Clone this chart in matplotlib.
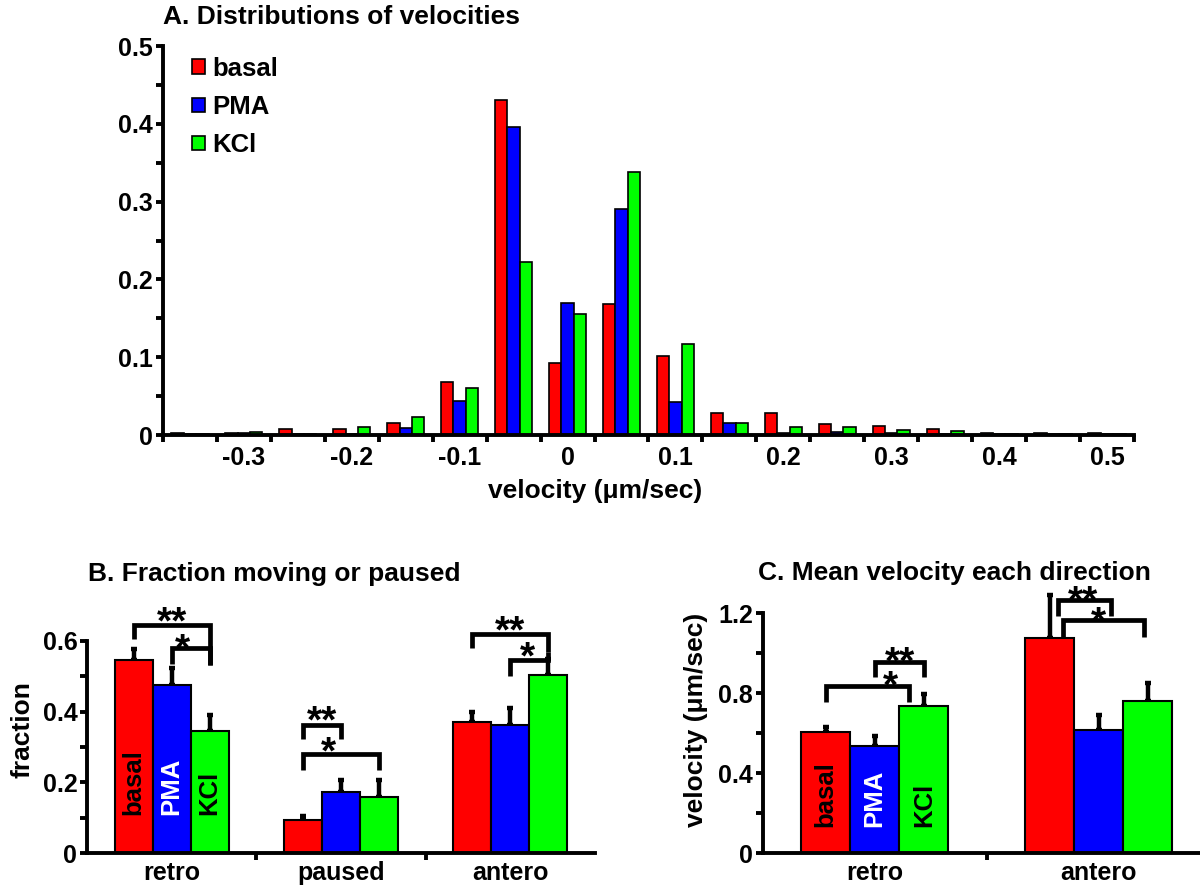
import matplotlib.pyplot as plt
import numpy as np

plt.rcParams['font.family'] = ['Liberation Sans', 'DejaVu Sans']
plt.rcParams['font.weight'] = 'bold'
plt.rcParams['axes.labelweight'] = 'bold'
plt.rcParams['axes.unicode_minus'] = False

conditions = ['basal', 'PMA', 'KCl']
colors = ['#ff0000', '#0000ff', '#00ff00']
label_colors = ['black', 'white', 'black']

# A. distributions of velocities (fraction per 0.05 bin)
bin_centers = [-0.35, -0.3, -0.25, -0.2, -0.15, -0.1, -0.05, 0, 0.05,
               0.1, 0.15, 0.2, 0.25, 0.3, 0.35, 0.4, 0.45, 0.5]
hist_basal = [0.003, 0.002, 0.008, 0.008, 0.016, 0.068, 0.431, 0.093, 0.168,
              0.101, 0.028, 0.028, 0.014, 0.011, 0.008, 0.002, 0.002, 0.002]
hist_pma = [0.001, 0.002, 0.001, 0.001, 0.009, 0.044, 0.396, 0.170, 0.290,
            0.042, 0.016, 0.002, 0.004, 0.002, 0.001, 0.001, 0.001, 0.001]
hist_kcl = [0.001, 0.004, 0.001, 0.010, 0.023, 0.061, 0.223, 0.156, 0.338,
            0.117, 0.016, 0.010, 0.010, 0.007, 0.005, 0.001, 0.001, 0.001]
vel_ticks = [-0.3, -0.2, -0.1, 0, 0.1, 0.2, 0.3, 0.4, 0.5]
vel_ticklabels = ['-0.3', '-0.2', '-0.1', '0', '0.1', '0.2', '0.3', '0.4', '0.5']

# B. fraction moving or paused
frac_groups = ['retro', 'paused', 'antero']
frac_basal = [0.545, 0.093, 0.372]
frac_basal_err = [0.033, 0.012, 0.028]
frac_pma = [0.476, 0.173, 0.362]
frac_pma_err = [0.048, 0.033, 0.048]
frac_kcl = [0.345, 0.158, 0.505]
frac_kcl_err = [0.045, 0.048, 0.045]
# brackets: x1, x2, top, left leg end, right leg end, stars, star x, star y
frac_brackets = [
    (-0.224, 0.224, 0.646, 0.607, 0.531, '**', 0.0, 0.685),
    (0.0, 0.224, 0.579, 0.536, 0.531, '*', 0.063, 0.608),
    (0.776, 1.0, 0.363, 0.322, 0.322, '**', 0.888, 0.405),
    (0.776, 1.224, 0.279, 0.236, 0.236, '*', 0.926, 0.318),
    (1.776, 2.224, 0.62, 0.58, 0.57, '**', 2.0, 0.66),
    (2.0, 2.224, 0.545, 0.50, 0.57, '*', 2.1, 0.585),
]

# C. mean velocity each direction
dir_groups = ['retro', 'antero']
vel_basal = [0.605, 1.075]
vel_basal_err = [0.025, 0.215]
vel_pma = [0.535, 0.615]
vel_pma_err = [0.05, 0.075]
vel_kcl = [0.735, 0.758]
vel_kcl_err = [0.06, 0.09]
vel_brackets = [
    (0.0, 0.219, 0.955, 0.88, 0.88, '**', 0.115, 1.01),
    (-0.219, 0.155, 0.835, 0.755, 0.755, '*', 0.07, 0.89),
    (0.82, 1.055, 1.265, 1.185, 1.185, '**', 0.93, 1.315),
    (0.84, 1.2, 1.165, 1.08, 1.08, '*', 1.0, 1.21),
]

LW = 2.8
STAR_FS = 28

fig = plt.figure(figsize=(12, 8.92), dpi=100)


def style_axes(ax):
    for s in ['top', 'right']:
        ax.spines[s].set_visible(False)
    for s in ['left', 'bottom']:
        ax.spines[s].set_linewidth(LW)
    ax.tick_params(which='both', direction='out', width=LW, length=5,
                   labelsize=18, pad=2)


def bracket(ax, x1, x2, top, y1, y2, stars, sx, sy):
    ax.plot([x1, x1, x2, x2], [y1, top, top, y2], color='k', lw=3.4,
            clip_on=False, solid_joinstyle='miter', solid_capstyle='butt')
    ax.annotate(stars, (sx, sy), xytext=(0, -0.58 * STAR_FS),
                textcoords='offset points', ha='center', va='baseline',
                fontsize=STAR_FS, annotation_clip=False)


def grouped_bars(ax, groups, means, errs, width, label_y):
    x = np.arange(len(groups))
    for i, (m, e) in enumerate(zip(means, errs)):
        xi = x + (i - 1) * width
        ax.bar(xi, m, width, color=colors[i], edgecolor='k', linewidth=1.5,
               zorder=2)
        eb = ax.errorbar(xi, m, yerr=[np.zeros(len(m)), e], fmt='none',
                         ecolor='k', elinewidth=3.2, capsize=2.5,
                         capthick=3.2, zorder=1)
        for art in list(eb.lines[1]) + list(eb.lines[2]):
            art.set_clip_on(False)
        ax.text(xi[0], label_y, conditions[i], rotation=90, ha='center',
                va='bottom', fontsize=18.5, color=label_colors[i], zorder=3)
    ax.set_xticks(x)
    ax.set_xticklabels(groups)
    ax.set_xticks(x[:-1] + 0.5, minor=True)
    ax.tick_params(axis='x', which='major', length=0, pad=6)


# ---- panel A
axA = fig.add_axes([0.1358, 0.5123, 0.8092, 0.4361])
style_axes(axA)
bw = 0.0115
for i, h in enumerate([hist_basal, hist_pma, hist_kcl]):
    axA.bar(np.array(bin_centers) + (i - 1) * bw, h, bw, color=colors[i],
            edgecolor='k', linewidth=1.2, label=conditions[i])
axA.set_xlim(-0.375, 0.525)
axA.set_ylim(0, 0.5)
axA.set_xticks(vel_ticks)
axA.set_xticklabels(vel_ticklabels)
axA.set_xticks(np.arange(-0.375, 0.53, 0.05), minor=True)
axA.tick_params(axis='x', which='major', length=0, pad=8)
axA.set_yticks([0, 0.1, 0.2, 0.3, 0.4, 0.5])
axA.set_yticklabels(['0', '0.1', '0.2', '0.3', '0.4', '0.5'])
axA.set_yticks(np.arange(0.05, 0.5, 0.1), minor=True)
axA.set_xlabel('velocity (\u03bcm/sec)', fontsize=19)
axA.xaxis.set_label_coords(0.445, -0.112)
axA.legend(loc='upper left', bbox_to_anchor=(0.030, 0.972), frameon=False,
           fontsize=18.5, handlelength=0.5, handleheight=0.5,
           handletextpad=0.3, labelspacing=0.55, borderaxespad=0,
           borderpad=0)

fig.text(163 / 1200, 1 - 17 / 892, 'A. Distributions of velocities',
         fontsize=19, ha='left', va='center')

# ---- panel B
axB = fig.add_axes([0.0725, 0.0437, 0.4233, 0.2377])
style_axes(axB)
grouped_bars(axB, frac_groups, [frac_basal, frac_pma, frac_kcl],
             [frac_basal_err, frac_pma_err, frac_kcl_err], 0.224, 0.108)
axB.set_xlim(-0.5, 2.5)
axB.set_ylim(0, 0.6)
axB.set_yticks([0, 0.2, 0.4, 0.6])
axB.set_yticklabels(['0', '0.2', '0.4', '0.6'])
axB.set_yticks([0.1, 0.3, 0.5], minor=True)
axB.set_ylabel('fraction', fontsize=19)
axB.yaxis.set_label_coords(-0.104, 0.58)
for b in frac_brackets:
    bracket(axB, *b)
fig.text(88 / 1200, 1 - 574 / 892, 'B. Fraction moving or paused',
         fontsize=19, ha='left', va='center')

# ---- panel C
axC = fig.add_axes([0.6356, 0.0437, 0.3644, 0.269])
style_axes(axC)
grouped_bars(axC, dir_groups, [vel_basal, vel_pma, vel_kcl],
             [vel_basal_err, vel_pma_err, vel_kcl_err], 0.219, 0.13)
axC.set_xlim(-0.5, 1.452)
axC.set_ylim(0, 1.2)
axC.set_yticks([0, 0.4, 0.8, 1.2])
axC.set_yticklabels(['0', '0.4', '0.8', '1.2'])
axC.set_yticks([0.2, 0.6, 1.0], minor=True)
axC.set_ylabel('velocity (\u03bcm/sec)', fontsize=19)
axC.yaxis.set_label_coords(-0.125, 0.556)
for b in vel_brackets:
    bracket(axC, *b)
fig.text(758 / 1200, 1 - 573 / 892, 'C. Mean velocity each direction',
         fontsize=19, ha='left', va='center')

fig.savefig('out.png', dpi=100)
